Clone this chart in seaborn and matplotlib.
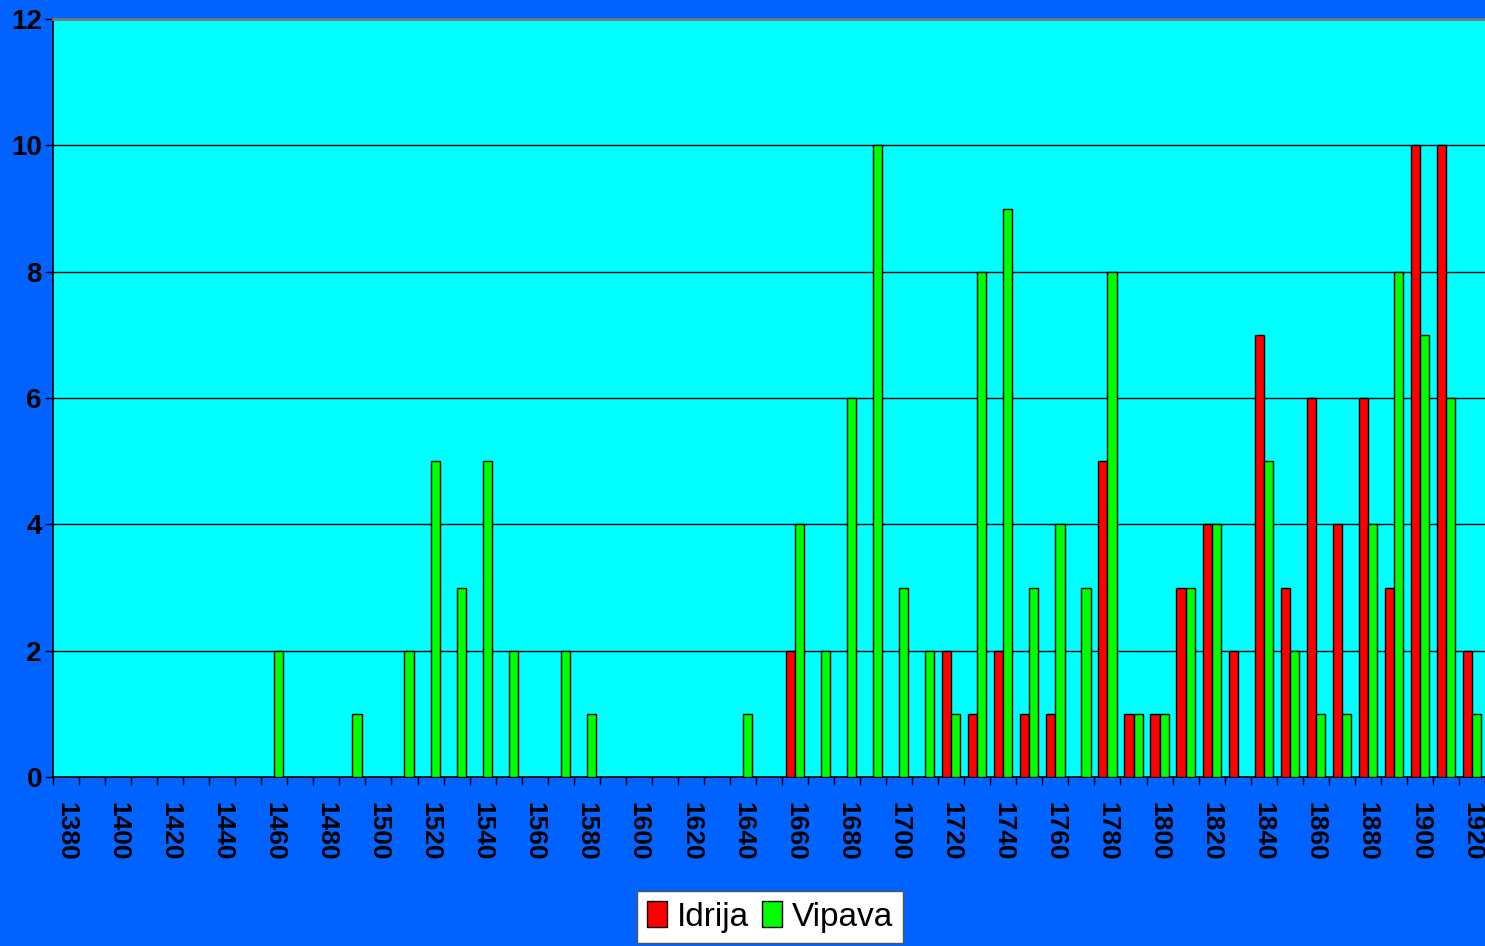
import numpy as np
import pandas as pd
import matplotlib
matplotlib.use("Agg")
import matplotlib.pyplot as plt
import seaborn as sns

# decades on the x axis
years = list(range(1380, 1930, 10))

idrija = [0] * 28 + [2, 0, 0, 0, 0, 0, 2, 1, 2, 1, 1, 0, 5, 1, 1, 3, 4, 2,
                     7, 3, 6, 4, 6, 3, 10, 10, 2]
vipava = [0, 0, 0, 0, 0, 0, 0, 0, 2, 0, 0, 1, 0, 2, 5, 3, 5, 2, 0, 2, 1,
          0, 0, 0, 0, 0, 1, 0, 4, 2, 6, 10, 3, 2, 1, 8, 9, 3, 4, 3, 8, 1,
          1, 3, 4, 0, 5, 2, 1, 1, 4, 8, 7, 6, 1]
series = ["Idrija", "Vipava"]
colors = ["#FF0000", "#00FF00"]

df = pd.DataFrame({
    "year": years * 2,
    "count": idrija + vipava,
    "place": [series[0]] * len(years) + [series[1]] * len(years),
})

sns.set_theme(style="white")
plt.rcParams["font.family"] = ["Liberation Sans", "DejaVu Sans"]
plt.rcParams["text.color"] = "black"
plt.rcParams["xtick.color"] = "black"
plt.rcParams["ytick.color"] = "black"

bg = "#0062FF"
fig = plt.figure(figsize=(14.85, 9.46), dpi=100, facecolor=bg)
ax = fig.add_axes([53 / 1485, 1 - 777 / 946, 1 - 53 / 1485, (777 - 19) / 946])
ax.set_facecolor("#00FFFF")

sns.barplot(data=df, x="year", y="count", hue="place", palette=colors,
            hue_order=series, edgecolor="black", linewidth=1.0, saturation=1,
            width=0.7, gap=0, ax=ax, zorder=3)

n = len(years)
ax.set_xlim(-0.5, n - 0.5)
ax.set_ylim(0, 12)
ax.set_yticks(np.arange(0, 13, 2))
ax.set_yticklabels([str(v) for v in range(0, 13, 2)], fontsize=20,
                   fontweight="bold", color="black")
ax.yaxis.grid(True, color="black", linewidth=1.0, zorder=0)
ax.set_axisbelow(True)

# tick marks at category boundaries, labels every other decade
ax.set_xticks(np.arange(-0.5, n, 1.0))
ax.set_xticklabels([])
ax.set_xticks(np.arange(0, n, 2), minor=True)
ax.set_xticklabels([str(y) for y in years[::2]], minor=True, rotation=270,
                   fontsize=19, fontweight="bold", color="black")
ax.tick_params(axis="x", which="major", direction="out", length=6, width=1,
               color="black", bottom=True)
ax.tick_params(axis="x", which="minor", length=0, pad=18)
ax.tick_params(axis="y", direction="out", length=6, width=1, color="black",
               left=True, pad=2)
ax.set_xlabel("")
ax.set_ylabel("")

for side in ["left", "bottom"]:
    ax.spines[side].set_color("black")
    ax.spines[side].set_linewidth(1.2)
ax.spines["top"].set_color("#777777")
ax.spines["top"].set_linewidth(2)
ax.spines["right"].set_visible(False)

ax.legend_.remove()
handles = [plt.Rectangle((0, 0), 1, 1, facecolor=c, edgecolor="black") for c in colors]
leg = fig.legend(handles, series, loc="lower center", bbox_to_anchor=(770 / 1485, 0.0),
                 ncol=2, fontsize=24, frameon=True, fancybox=False,
                 handlelength=0.6, handleheight=0.8, handletextpad=0.3,
                 columnspacing=0.4, borderpad=0.3, borderaxespad=0.1)
leg.get_frame().set_edgecolor("#555555")
leg.get_frame().set_facecolor("white")
leg.get_frame().set_alpha(1)

fig.savefig("out.png", dpi=100, facecolor=bg)
